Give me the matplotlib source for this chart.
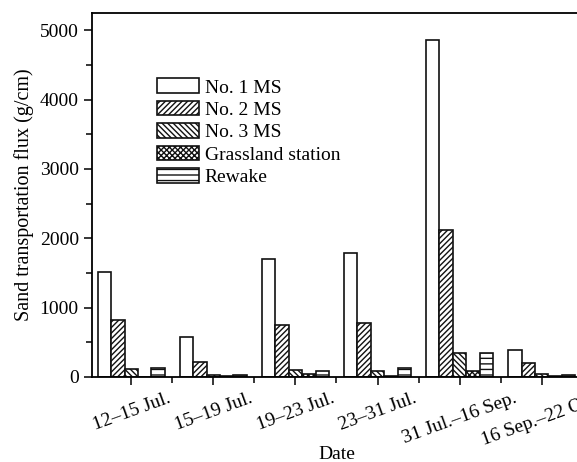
import matplotlib
matplotlib.use('Agg')
import matplotlib.pyplot as plt
import matplotlib.transforms as mtrans
import numpy as np
from matplotlib.ticker import MultipleLocator, FixedLocator

plt.rcParams['font.family'] = ['Liberation Serif', 'DejaVu Serif']
plt.rcParams['hatch.linewidth'] = 1.0

periods = ['12\u201315 Jul.', '15\u201319 Jul.', '19\u201323 Jul.', '23\u201331 Jul.',
           '31 Jul.\u201316 Sep.', '16 Sep.\u201322 Oct.']
sites = ['No. 1 MS', 'No. 2 MS', 'No. 3 MS', 'Grassland station', 'Rewake']
ms1 = [1510, 580, 1700, 1790, 4860, 385]
ms2 = [825, 220, 750, 780, 2120, 205]
ms3 = [110, 35, 105, 90, 345, 50]
grassland = [5, 10, 45, 20, 90, 20]
rewake = [125, 25, 80, 130, 340, 25]

series = [ms1, ms2, ms3, grassland, rewake]
hatches = ['', '//////', '\\\\\\\\\\\\', 'xxxxxx', '---']

fig = plt.figure(figsize=(5.77, 4.62), dpi=100)
ax = fig.add_axes([0.1594, 0.184, 0.8475, 0.788])

x = np.arange(len(periods))
w = 0.163
for i, (vals, h) in enumerate(zip(series, hatches)):
    ax.bar(x + (i - 2) * w, vals, w, facecolor='white', edgecolor='#111111',
           linewidth=1.2, hatch=h, label=sites[i])

ax.set_xlim(-0.48, 5.48)
ax.set_ylim(0, 5250)
ax.yaxis.set_major_locator(MultipleLocator(1000))
ax.yaxis.set_minor_locator(MultipleLocator(500))
ax.set_xticks(x)
ax.set_xticklabels(periods, rotation=20, fontsize=14)
# shift the slanted labels a bit left, like the original
shift = mtrans.ScaledTranslation(-12 / 100, -2 / 100, fig.dpi_scale_trans)
for lab in ax.get_xticklabels():
    lab.set_transform(lab.get_transform() + shift)
ax.xaxis.set_minor_locator(FixedLocator(x[:-1] + 0.5))
ax.tick_params(axis='both', which='major', direction='out', length=6, width=1.1, labelsize=14)
ax.tick_params(axis='both', which='minor', direction='out', length=4, width=1.1)
for s in ax.spines.values():
    s.set_linewidth(1.3)

ax.set_xlabel('Date', fontsize=14)
ax.xaxis.set_label_coords(0.5, -0.19)
ax.set_ylabel('Sand transportation flux (g/cm)', fontsize=14.5, labelpad=4)

ax.legend(loc='upper left', bbox_to_anchor=(0.133, 0.82), frameon=False, fontsize=14,
          handlelength=2.15, handleheight=0.78, labelspacing=0.22, handletextpad=0.3,
          borderpad=0, borderaxespad=0)

fig.savefig('out.png', dpi=100)
